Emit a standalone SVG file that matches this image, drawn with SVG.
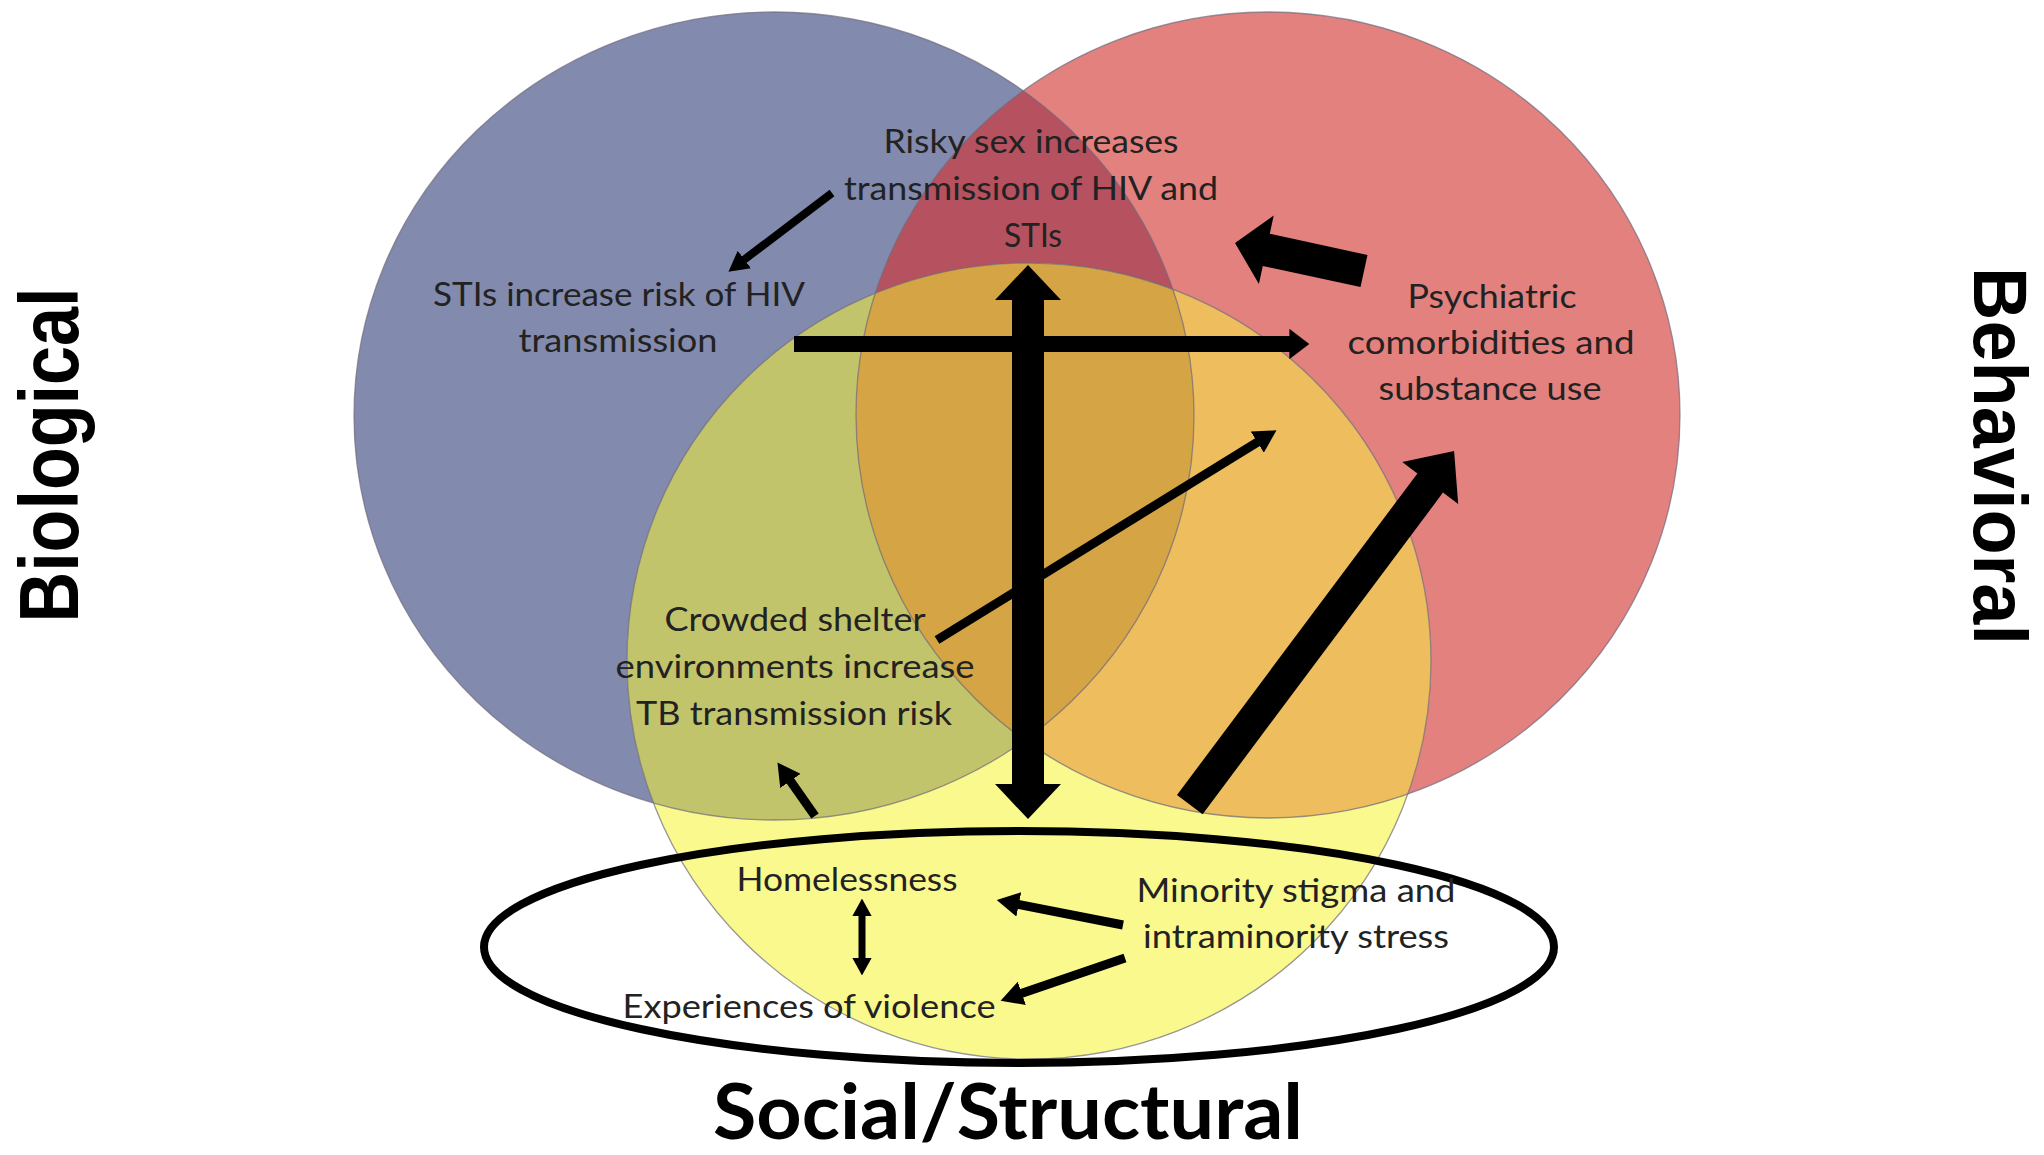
<svg xmlns="http://www.w3.org/2000/svg" width="2044" height="1155" viewBox="0 0 2044 1155">
<style>
.lbl{font-family:Lato,"Open Sans","Liberation Sans",sans-serif;font-size:33px;fill:#222;text-anchor:middle}
.big{font-family:"Liberation Sans",Arial,sans-serif;font-weight:bold;font-size:84px;fill:#000;text-anchor:middle}
.title{font-family:Lato,"Open Sans","Liberation Sans",sans-serif;font-weight:bold;font-size:76px;fill:#000;text-anchor:middle}
.arr{fill:#000}
.ln{stroke:#000;fill:none;stroke-linecap:butt}
.edge{fill:none;stroke:#6e6a7c;stroke-width:1.3;stroke-opacity:0.7}
</style>
<defs>
<ellipse id="cB" cx="774" cy="416" rx="420" ry="404"/>
<ellipse id="cR" cx="1268" cy="415" rx="412" ry="403"/>
<ellipse id="cY" cx="1029" cy="661" rx="402" ry="398"/>
<clipPath id="clipB"><use href="#cB"/></clipPath>
<clipPath id="clipR"><use href="#cR"/></clipPath>
<marker id="hs" viewBox="0 0 10 10" refX="0.3" refY="5" markerWidth="2.5" markerHeight="2.75" markerUnits="strokeWidth" orient="auto-start-reverse" preserveAspectRatio="none"><path d="M0,0 L10,5 L0,10 z" fill="#000"/></marker>
<marker id="hm" viewBox="0 0 10 10" refX="0.3" refY="5" markerWidth="1.25" markerHeight="1.9" markerUnits="strokeWidth" orient="auto" preserveAspectRatio="none"><path d="M0,0 L10,5 L0,10 z" fill="#000"/></marker>
</defs>
<rect width="2044" height="1155" fill="#fff"/>

<g id="regions">
<g id="biological-circle"><use href="#cB" fill="#828AAD"/></g>
<g id="behavioral-circle"><use href="#cR" fill="#E3817F"/></g>
<g id="social-circle"><use href="#cY" fill="#F9F98D"/></g>
<use href="#cR" fill="#B6515F" clip-path="url(#clipB)"/>
<use href="#cY" fill="#C2C46B" clip-path="url(#clipB)"/>
<use href="#cY" fill="#EDBD5E" clip-path="url(#clipR)"/>
<g clip-path="url(#clipB)"><use href="#cY" fill="#D5A444" clip-path="url(#clipR)"/></g>
<use href="#cB" class="edge"/>
<use href="#cR" class="edge"/>
<use href="#cY" class="edge"/>
</g>

<g id="social-ellipse"><ellipse cx="1019" cy="947" rx="535" ry="116" fill="none" stroke="#000" stroke-width="8"/></g>

<g id="connectors">
<line class="ln" x1="832" y1="193" x2="743.9" y2="259.9" stroke-width="8" marker-end="url(#hs)"/>
<line class="ln" x1="794" y1="344" x2="1290" y2="344" stroke-width="16" marker-end="url(#hm)"/>
<polygon class="arr" points="1028,265 1061,300 1044,300 1044,784 1061,784 1028,819 995,784 1012,784 1012,300 995,300"/>
<polygon class="arr" points="1235,243 1273.7,215.6 1269.8,233.7 1367.5,254.9 1360.5,287.1 1262.8,265.9 1258.9,284"/>
<line class="ln" x1="937" y1="640" x2="1257.9" y2="441.8" stroke-width="9" marker-end="url(#hs)"/>
<polygon class="arr" points="1454.1,451 1458.2,504 1443,492.6 1202.6,814.2 1177,795 1417.4,473.4 1402.2,462"/>
<line class="ln" x1="815" y1="816" x2="790" y2="780.4" stroke-width="9" marker-end="url(#hs)"/>
<line class="ln" x1="862" y1="915.5" x2="862" y2="958.5" stroke-width="7" marker-start="url(#hs)" marker-end="url(#hs)"/>
<line class="ln" x1="1123" y1="925" x2="1018.1" y2="904.3" stroke-width="9" marker-end="url(#hs)"/>
<line class="ln" x1="1125" y1="958" x2="1021.2" y2="993.6" stroke-width="9" marker-end="url(#hs)"/>
</g>

<g id="risky-sex">
<text class="lbl" x="1031" y="153" textLength="295" lengthAdjust="spacingAndGlyphs">Risky sex increases</text>
<text class="lbl" x="1031" y="200" textLength="374" lengthAdjust="spacingAndGlyphs">transmission of HIV and</text>
<text class="lbl" x="1033" y="247" textLength="58" lengthAdjust="spacingAndGlyphs">STIs</text>
</g>
<g id="stis-risk">
<text class="lbl" x="619" y="306" textLength="372" lengthAdjust="spacingAndGlyphs">STIs increase risk of HIV</text>
<text class="lbl" x="618" y="352" textLength="199" lengthAdjust="spacingAndGlyphs">transmission</text>
</g>
<g id="psychiatric">
<text class="lbl" x="1492" y="308" textLength="169" lengthAdjust="spacingAndGlyphs">Psychiatric</text>
<text class="lbl" x="1491" y="354" textLength="287" lengthAdjust="spacingAndGlyphs">comorbidities and</text>
<text class="lbl" x="1490" y="400" textLength="223" lengthAdjust="spacingAndGlyphs">substance use</text>
</g>
<g id="crowded-shelter">
<text class="lbl" x="795" y="631" textLength="261" lengthAdjust="spacingAndGlyphs">Crowded shelter</text>
<text class="lbl" x="795" y="678" textLength="359" lengthAdjust="spacingAndGlyphs">environments increase</text>
<text class="lbl" x="794" y="725" textLength="316" lengthAdjust="spacingAndGlyphs">TB transmission risk</text>
</g>
<g id="homelessness">
<text class="lbl" x="847" y="891" textLength="221" lengthAdjust="spacingAndGlyphs">Homelessness</text>
</g>
<g id="violence">
<text class="lbl" x="809" y="1018" textLength="373" lengthAdjust="spacingAndGlyphs">Experiences of violence</text>
</g>
<g id="minority-stress">
<text class="lbl" x="1296" y="902" textLength="319" lengthAdjust="spacingAndGlyphs">Minority stigma and</text>
<text class="lbl" x="1296" y="948" textLength="306" lengthAdjust="spacingAndGlyphs">intraminority stress</text>
</g>

<g id="label-biological">
<text class="big" transform="translate(78,455) rotate(-90)" textLength="335" lengthAdjust="spacingAndGlyphs">Biological</text>
</g>
<g id="label-behavioral">
<text class="big" style="font-size:76px" transform="translate(1974,456) rotate(90)" textLength="378" lengthAdjust="spacingAndGlyphs">Behavioral</text>
</g>
<g id="label-social">
<text class="title" x="1008" y="1139" textLength="590" lengthAdjust="spacingAndGlyphs">Social/Structural</text>
</g>
</svg>
